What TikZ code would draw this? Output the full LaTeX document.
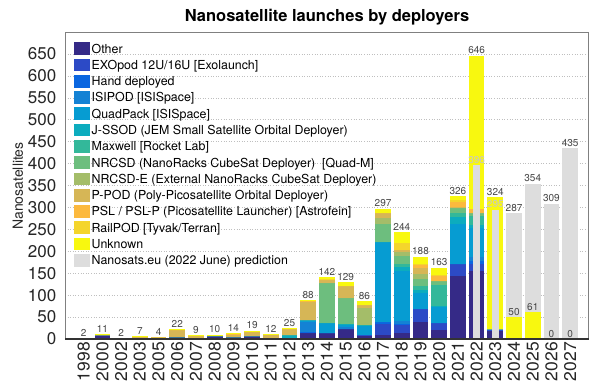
\documentclass[tikz,border=0pt]{standalone}
\usepackage{fontspec}
\setmainfont{TeX Gyre Heros}
\usepackage{tikz}
\usetikzlibrary{positioning}
\definecolor{dep1}{HTML}{352A87}
\definecolor{dep2}{HTML}{2C4AC6}
\definecolor{dep3}{HTML}{0A66E0}
\definecolor{dep4}{HTML}{1482D4}
\definecolor{dep5}{HTML}{069CD2}
\definecolor{dep6}{HTML}{0CACBE}
\definecolor{dep7}{HTML}{33B89A}
\definecolor{dep8}{HTML}{6DBE7E}
\definecolor{dep9}{HTML}{A4BD69}
\definecolor{dep10}{HTML}{D6B656}
\definecolor{dep11}{HTML}{FCB93E}
\definecolor{dep12}{HTML}{F4D52C}
\definecolor{dep13}{HTML}{F8F80F}
\definecolor{dep14}{HTML}{DDDDDD}
\tikzstyle{vlab} = [font=\fontsize{10}{10}\selectfont, text=black!72, inner sep=1.5pt, anchor=south]
\tikzstyle{ticklab} = [font=\fontsize{17}{17}\selectfont, text=black!85, inner sep=0pt]
\tikzstyle{legtxt} = [font=\fontsize{12.4}{13}\selectfont, anchor=base west, inner sep=0pt]

\begin{document}
\begin{tikzpicture}[x=1pt,y=1pt]
  \useasboundingbox (0,0) rectangle (591,384);
  \fill[white] (0,0) rectangle (591,384);
  \node[font=\bfseries\fontsize{16.5}{17}\selectfont] (title) at (327,367) {Nanosatellite launches by deployers};
  \node[rotate=90, font=\fontsize{14}{14}\selectfont, text=black!85] (ylab) at (18,198) {Nanosatellites};
  \begin{scope}[shift={(65,45)}, x=18.71pt, y=0.4385pt]
    % grid
    \foreach \g in {50,100,...,650}
      \draw[black!25, dotted, line width=0.6pt] (0,\g) -- (28,\g);
    % predictions behind
    \foreach \i/\p in {24/287,25/354,26/309,27/435} {
      \fill[dep14] (\i-0.42,0) rectangle (\i+0.42,\p);
      \node[vlab] (pr\i) at (\i,\p) {\p};
    }
    % stacked launches
    \foreach \i/\yr/\vals in {
      1/1998/{0,0,0,0,0,0,0,0,0,2,0,0,0},
      2/2000/{10,0,0,0,0,0,0,0,0,0,0,0,1},
      3/2002/{0,0,0,0,0,0,0,0,0,2,0,0,0},
      4/2003/{0,0,0,0,0,0,0,0,0,5,0,0,2},
      5/2005/{3,0,0,0,0,0,0,0,0,1,0,0,0},
      6/2006/{4,0,0,0,0,0,0,0,0,17,0,0,1},
      7/2007/{1,0,0,0,0,0,0,0,0,6,0,0,2},
      8/2008/{6,0,0,0,0,0,0,0,0,3,0,0,1},
      9/2009/{4,0,0,0,0,0,0,0,0,4,4,0,2},
      10/2010/{7,0,0,0,0,0,0,0,0,8,0,0,4},
      11/2011/{2,0,0,0,0,0,0,0,0,9,0,0,1},
      12/2012/{2,0,0,0,0,6,0,0,0,15,0,0,2},
      13/2013/{14,0,2,22,5,0,0,0,0,42,1,0,2},
      14/2014/{13,0,0,0,24,0,0,91,0,6,0,2,6},
      15/2015/{22,0,0,5,6,2,0,58,0,28,0,0,8},
      16/2016/{6,3,0,0,20,4,0,0,37,8,0,0,8},
      17/2017/{8,26,4,0,184,0,0,40,15,10,0,0,10},
      18/2018/{14,18,3,5,114,10,7,19,8,5,0,17,24},
      19/2019/{38,30,0,0,36,8,9,16,12,14,5,4,16},
      20/2020/{21,15,0,0,36,3,48,10,0,0,11,3,16},
      21/2021/{144,27,0,0,91,17,8,11,0,3,12,5,8},
      22/2022/{155,15,9,7,68,5,21,8,0,0,9,0,349},
      23/2023/{18,2,0,0,2,0,0,0,0,0,0,0,302},
      24/2024/{0,0,0,0,0,0,0,0,0,0,0,0,50},
      25/2025/{0,0,0,0,0,0,0,0,0,0,0,0,61},
      26/2026/{0,0,0,0,0,0,0,0,0,0,0,0,0},
      27/2027/{0,0,0,0,0,0,0,0,0,0,0,0,0}} {
      \gdef\cum{0}
      \foreach \v [count=\k] in \vals {
        \pgfmathsetmacro\nxt{\cum+\v}
        \fill[dep\k] (\i-0.42,\cum) rectangle (\i+0.42,\nxt);
        \xdef\cum{\nxt}
      }
      \pgfmathtruncatemacro\tot{\cum}
      \node[vlab] (tot\i) at (\i,\cum) {\tot};
      \node[ticklab, yshift=-3pt, rotate=90, xscale=1.03, anchor=east] (yr\i) at (\i,0) {\yr};
    }
    % predictions in front
    \foreach \i/\p in {22/396,23/295} {
      \fill[dep14] (\i-0.17,0) rectangle (\i+0.17,\p);
      \node[vlab, text=black!22] (pr\i) at (\i,\p) {\p};
    }
    % axes
    \draw[black!50, line width=0.8pt] (0,0) rectangle (28,700);
    \draw[black!80, line width=1.2pt] (0,0) -- (28,0);
    \foreach \t in {0,50,...,650}
      \node[ticklab, xshift=-8.5pt, anchor=east] (yt\t) at (0,\t) {\t};
  \end{scope}
  % legend
  \foreach \txt [count=\k] in {Other, EXOpod 12U/16U [Exolaunch], Hand deployed,
      ISIPOD [ISISpace], QuadPack [ISISpace], J-SSOD (JEM Small Satellite Orbital Deployer),
      Maxwell [Rocket Lab], NRCSD (NanoRacks CubeSat Deployer)\ \ [Quad-M],
      NRCSD-E (External NanoRacks CubeSat Deployer), P-POD (Poly-Picosatellite Orbital Deployer),
      PSL / PSL-P (Picosatellite Launcher) [Astrofein], RailPOD [Tyvak/Terran], Unknown,
      Nanosats.eu (2022 June) prediction} {
    \pgfmathsetmacro\ly{384-48.7-16.28*(\k-1)}
    \fill[dep\k] (74,\ly-6.35) rectangle (90,\ly+6.35);
    \node[legtxt] (leg\k) at (91.5,\ly-4.4) {\txt};
  }
\end{tikzpicture}
\end{document}
